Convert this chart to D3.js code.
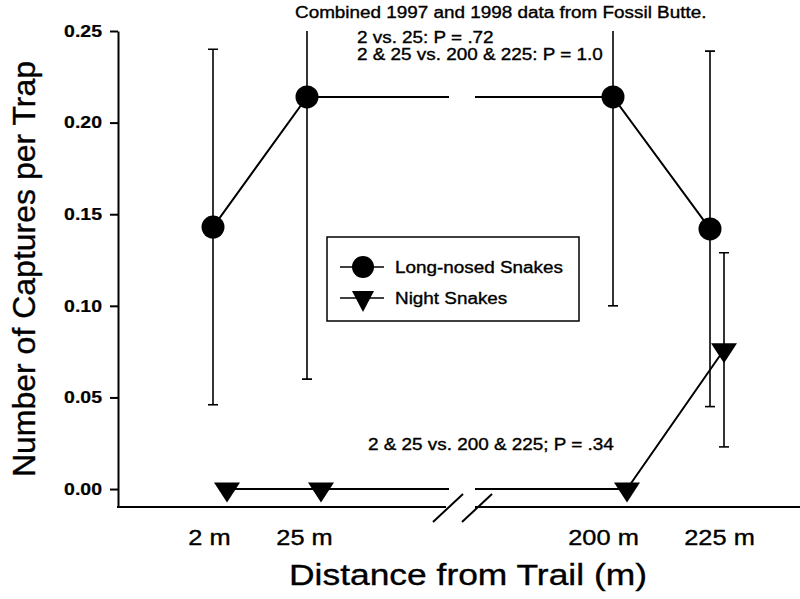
<!DOCTYPE html>
<meta charset="utf-8" />
<head>
  <script src="https://d3js.org/d3.v7.min.js"></script>
  <title>Captures per trap</title>
  <style>
    body { margin: 0; background: #fff; }
    text { font-family: "Liberation Sans", Arial, Helvetica, sans-serif; fill: #000; stroke: #000; stroke-width: 0.35px; }
    .axis--y path, .axis--y line { stroke: #000; stroke-width: 2px; }
    .axis--y text { font-size: 16.5px; font-weight: bold; stroke-width: 0.2px; }
    .axis--x text { font-size: 21.5px; }
  </style>
</head>
<body>
  <svg id="chart" width="800" height="599"></svg>
</body>

<script>
  // distances (m) and their labels
  const distances = [2, 25, 200, 225];
  const distLabels = ["2 m", "25 m", "200 m", "225 m"];

  // long-nosed snakes: mean and error bar limits
  const longNosed = [0.143, 0.214, 0.214, 0.142];
  const longLow = [0.046, 0.06, 0.1, 0.045];
  const longHigh = [0.24, 0.27, 0.27, 0.239];

  // night snakes
  const night = [0, 0, 0, 0.076];
  const nightLow = [null, null, null, 0.023];
  const nightHigh = [null, null, null, 0.129];

  const yTicks = [0, 0.05, 0.1, 0.15, 0.2, 0.25];

  const title = "Combined 1997 and 1998 data from Fossil Butte.";
  const notesTop = ["2 vs. 25: P = .72", "2 & 25 vs. 200 & 225: P = 1.0"];
  const noteBottom = "2 & 25 vs. 200 & 225; P = .34";

  const svg = d3.select("#chart");
  svg.append("rect").attr("width", 800).attr("height", 599).attr("fill", "#fff");

  // broken x axis: piecewise scale
  const x = d3.scaleLinear().domain(distances).range([213, 307, 613, 710]);
  const nightShift = 14;
  const y = d3.scaleLinear().domain([-0.0098, 0.25]).range([507, 31]);

  const toRows = (vals, lo, hi) =>
    distances.map((d, i) => ({ dist: d, v: vals[i], lo: lo[i], hi: hi[i] }));
  const longData = toRows(longNosed, longLow, longHigh);
  const nightData = toRows(night, nightLow, nightHigh);

  // clip: plot area minus the axis break band
  const clip = svg.append("defs").append("clipPath").attr("id", "clip");
  clip.append("rect").attr("x", 0).attr("y", y(0.25)).attr("width", 449).attr("height", 600);
  clip.append("rect").attr("x", 475).attr("y", y(0.25)).attr("width", 400).attr("height", 600);

  // y axis
  svg
    .append("g")
    .attr("class", "axis--y")
    .attr("transform", "translate(118,0)")
    .call(
      d3.axisLeft(y).tickValues(yTicks).tickFormat(d3.format(".2f"))
        .tickSize(8).tickSizeOuter(0).tickPadding(8)
    );

  // x axis line with break marks
  const xa = svg.append("g").attr("stroke", "#000").attr("stroke-width", 2);
  xa.append("line").attr("x1", 117).attr("x2", 446).attr("y1", 507).attr("y2", 507);
  xa.append("line").attr("x1", 475).attr("x2", 800).attr("y1", 507).attr("y2", 507);
  xa.append("line").attr("x1", 433).attr("y1", 522).attr("x2", 463).attr("y2", 494);
  xa.append("line").attr("x1", 462).attr("y1", 522).attr("x2", 492).attr("y2", 494);

  const labelNudge = [-4, -3, -10, 9];
  const gx = svg
    .append("g")
    .attr("class", "axis--x")
    .attr("transform", "translate(0,507)")
    .call(
      d3.axisBottom(x).tickValues(distances)
        .tickFormat((d, i) => distLabels[i]).tickSize(0).tickPadding(23)
    );
  gx.select(".domain").remove();
  gx.selectAll("text").attr("dx", (d, i) => labelNudge[i]);

  const plot = svg.append("g").attr("clip-path", "url(#clip)");

  // error bars
  const errorBars = (rows, shift) => {
    const g = plot.append("g").attr("stroke", "#000").attr("stroke-width", 1.6);
    const r = rows.filter((d) => d.lo != null);
    g.selectAll(".bar").data(r).join("line")
      .attr("x1", (d) => x(d.dist) + shift).attr("x2", (d) => x(d.dist) + shift)
      .attr("y1", (d) => y(d.lo)).attr("y2", (d) => y(d.hi));
    ["lo", "hi"].forEach((k) => {
      g.selectAll(".cap-" + k).data(r).join("line")
        .attr("x1", (d) => x(d.dist) + shift - 5).attr("x2", (d) => x(d.dist) + shift + 5)
        .attr("y1", (d) => y(d[k])).attr("y2", (d) => y(d[k]));
    });
  };
  errorBars(longData, 0);
  errorBars(nightData, nightShift);

  // lines
  const line = (shift) => d3.line().x((d) => x(d.dist) + shift).y((d) => y(d.v));
  plot.append("path").attr("d", line(0)(longData))
    .attr("fill", "none").attr("stroke", "#000").attr("stroke-width", 2);
  plot.append("path").attr("d", line(nightShift)(nightData))
    .attr("fill", "none").attr("stroke", "#000").attr("stroke-width", 2);

  // markers
  const tri = (w, h) => `M${-w / 2},${-h / 3}L${w / 2},${-h / 3}L0,${(2 * h) / 3}Z`;
  svg.append("g").selectAll("circle").data(longData).join("circle")
    .attr("cx", (d) => x(d.dist)).attr("cy", (d) => y(d.v)).attr("r", 11.5).attr("fill", "#000");
  svg.append("g").selectAll("path").data(nightData).join("path")
    .attr("transform", (d) => `translate(${x(d.dist) + nightShift},${y(d.v)})`)
    .attr("d", tri(26, 20)).attr("fill", "#000");

  // legend
  const legend = svg.append("g");
  legend.append("rect").attr("x", 327).attr("y", 237).attr("width", 252).attr("height", 84)
    .attr("fill", "#fff").attr("stroke", "#000").attr("stroke-width", 1.5);
  const entries = [
    { name: "Long-nosed Snakes", kind: "circle" },
    { name: "Night Snakes", kind: "tri" },
  ];
  entries.forEach((e, i) => {
    const cy = 267 + i * 31;
    legend.append("line").attr("x1", 340).attr("x2", 384).attr("y1", cy).attr("y2", cy)
      .attr("stroke", "#000").attr("stroke-width", 1.5);
    if (e.kind === "circle") {
      legend.append("circle").attr("cx", 363).attr("cy", cy).attr("r", 11).attr("fill", "#000");
    } else {
      legend.append("path").attr("transform", `translate(363,${cy})`).attr("d", tri(22, 21)).attr("fill", "#000");
    }
    legend.append("text").attr("x", 395).attr("y", cy + 6).style("font-size", "16px").text(e.name);
  });

  // texts
  svg.append("text").attr("x", 295).attr("y", 18).style("font-size", "16px").text(title);
  svg.selectAll(".note").data(notesTop).join("text")
    .attr("x", 357).attr("y", (d, i) => 43 + i * 17).style("font-size", "16px").text((d) => d);
  svg.append("text").attr("x", 368).attr("y", 450).style("font-size", "16px").text(noteBottom);

  svg.append("text").attr("x", 468).attr("y", 585).attr("text-anchor", "middle")
    .style("font-size", "30px").text("Distance from Trail (m)");

  // the scanned figure is wider than Arial: stretch horizontal text
  svg.selectAll("text").each(function () {
    const w = this.getComputedTextLength();
    d3.select(this).attr("textLength", w * 1.18).attr("lengthAdjust", "spacingAndGlyphs");
  });

  svg.append("text")
    .attr("transform", "translate(35,269) rotate(-90)")
    .attr("text-anchor", "middle").style("font-size", "32px")
    .text("Number of Captures per Trap");
</script>
